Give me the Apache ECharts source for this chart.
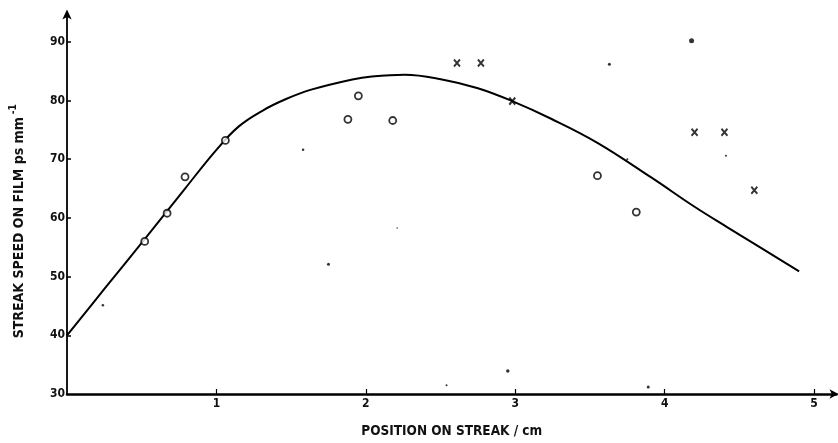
<!DOCTYPE html>
<html>
<head>
<meta charset="utf-8">
<script src="https://cdn.jsdelivr.net/npm/echarts@6/dist/echarts.min.js"></script>
<style>
html,body{margin:0;padding:0;background:#fff;}
#chart{width:838px;height:443px;}
</style>
</head>
<body>
<div id="chart"></div>
<script>
// Fitted curve
const curveX = [0, 0.25, 0.52, 0.79, 1.0, 1.15, 1.31, 1.47, 1.64, 1.91, 2.04, 2.26, 2.51, 2.75, 2.98, 3.24, 3.55, 3.91, 4.2, 4.42, 4.65, 4.90];
const curveY = [40, 47.9, 56.4, 65, 71.6, 75.6, 78.3, 80.3, 81.9, 83.6, 84.1, 84.4, 83.6, 82.1, 79.9, 76.9, 72.8, 66.9, 61.9, 58.4, 54.8, 50.9];
// Open circle points
const circleX = [0.52, 0.67, 0.79, 1.06, 1.88, 1.95, 2.18, 3.55, 3.81];
const circleY = [56.0, 60.8, 67.0, 73.2, 76.8, 80.8, 76.6, 67.2, 61.0];
// Cross points
const crossX = [2.61, 2.77, 2.98, 4.20, 4.40, 4.60];
const crossY = [86.4, 86.4, 79.9, 74.6, 74.6, 64.7];
// Small dots / specks
const dotX = [4.18, 3.63, 1.58, 1.75, 0.24, 2.95, 3.89, 2.54, 4.41, 3.75, 2.21];
const dotY = [90.2, 86.2, 71.6, 52.1, 45.1, 33.9, 31.2, 31.5, 70.6, 70.0, 58.3];
const dotSize = [5, 3, 2.5, 3, 2.5, 3.5, 3, 2, 2, 2, 1.5];
// Axis ticks/labels
const xTicks = [1, 2, 3, 4, 5];
const yTicks = [30, 40, 50, 60, 70, 80, 90];

const zip = (a, b) => a.map((v, i) => [v, b[i]]);
const FONT = '"DejaVu Sans Condensed", "Liberation Sans", sans-serif';

const chart = echarts.init(document.getElementById('chart'), null, {renderer: 'canvas'});
chart.setOption({
  animation: false,
  backgroundColor: '#fff',
  grid: {left: 64, right: 1.5, top: 12.5, bottom: 47, containLabel: false},
  xAxis: {
    type: 'value', min: 0, max: 5.15,
    name: 'POSITION ON STREAK / cm', nameLocation: 'middle', nameGap: 30,
    nameTextStyle: {color: '#111', fontFamily: FONT, fontSize: 13.5, fontWeight: 'bold'},
    axisLine: {show: true, lineStyle: {color: '#000', width: 2.5}, symbol: ['none', 'arrow'], symbolSize: [7, 9], symbolOffset: [0, 2]},
    axisTick: {show: true, inside: true, length: 5, lineStyle: {color: '#000', width: 1.2}, customValues: xTicks},
    axisLabel: {show: true, color: '#111', fontFamily: FONT, fontSize: 12, fontWeight: 'bold', margin: 4, customValues: xTicks},
    splitLine: {show: false}
  },
  yAxis: {
    type: 'value', min: 30, max: 95,
    name: '{a|STREAK SPEED ON FILM ps mm}{b|-1}', nameLocation: 'middle', nameGap: 37, nameRotate: 90,
    nameTextStyle: {
      color: '#111', fontFamily: FONT, fontSize: 14, fontWeight: 'bold', padding: [0, 36, 0, 0],
      rich: {
        a: {fontFamily: FONT, fontSize: 14, fontWeight: 'bold', color: '#111'},
        b: {fontFamily: FONT, fontSize: 10, fontWeight: 'bold', color: '#111', verticalAlign: 'top', padding: [0, 0, 12, 3]}
      }
    },
    axisLine: {show: true, onZero: false, lineStyle: {color: '#000', width: 1.8}, symbol: ['none', 'arrow'], symbolSize: [7, 10], symbolOffset: [0, 3]},
    axisTick: {show: true, inside: true, length: 4, lineStyle: {color: '#000', width: 1.5}, customValues: [40, 50, 60, 70, 80, 90]},
    axisLabel: {show: true, color: '#111', fontFamily: FONT, fontSize: 12, fontWeight: 'bold', margin: 2, customValues: yTicks},
    splitLine: {show: false}
  },
  series: [
    {
      type: 'line', data: zip(curveX, curveY), smooth: 0.4, showSymbol: false, symbol: 'none',
      lineStyle: {color: '#000', width: 2}, z: 2
    },
    {
      type: 'scatter', data: zip(circleX, circleY), symbol: 'circle', symbolSize: 7,
      itemStyle: {color: '#fff', borderColor: '#000', borderWidth: 1.8}, z: 3
    },
    {
      type: 'scatter', data: zip(crossX, crossY), symbol: 'path://M0,0L10,12M10,0L0,12', symbolSize: [6, 7],
      itemStyle: {color: '#000', borderColor: '#000', borderWidth: 2}, z: 3
    },
    {
      type: 'scatter', data: zip(dotX, dotY).map((p, i) => ({value: p, symbolSize: dotSize[i]})), symbol: 'circle',
      itemStyle: {color: '#000'}, z: 3
    }
  ]
});
</script>
</body>
</html>
